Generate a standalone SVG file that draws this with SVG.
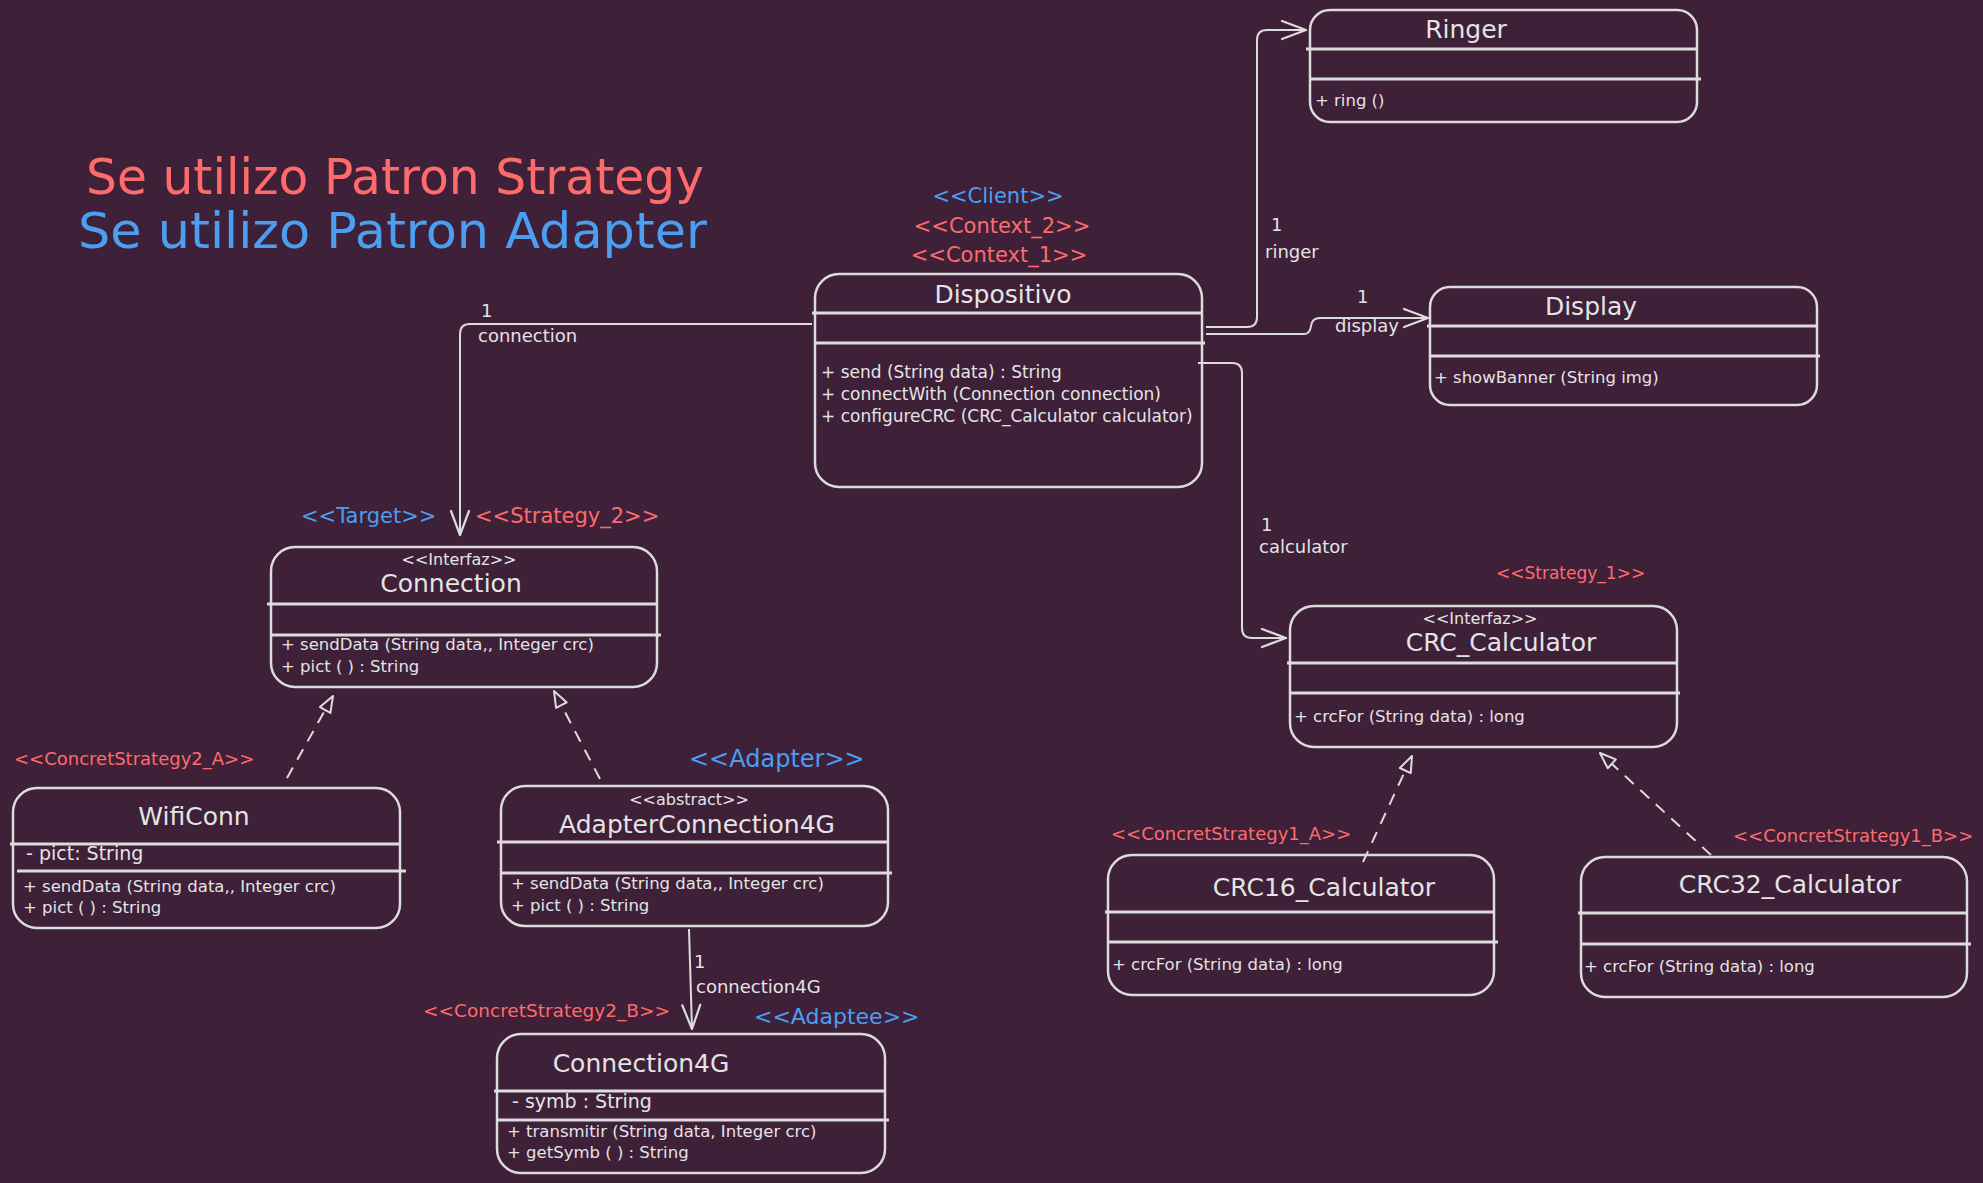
<svg xmlns="http://www.w3.org/2000/svg" width="1983" height="1183" viewBox="0 0 1983 1183">
<style>
.bg{fill:#3e2039}
.box{fill:none;stroke:#dcdcdc;stroke-width:2.5}
.div{stroke:#dcdcdc;stroke-width:3}
.t{font-family:"DejaVu Sans",sans-serif;fill:#e4e4e4}
.title{font-size:25px;text-anchor:middle}
.ster{font-size:16px;text-anchor:middle}
.m{font-size:16.5px}
.md{font-size:17px}
.attr{font-size:19px}
.lbl{font-size:18px}
.red{font-family:"DejaVu Sans",sans-serif;fill:#ff6b6b}
.blue{font-family:"DejaVu Sans",sans-serif;fill:#4c9ef0}
.con{fill:none;stroke:#dcdcdc;stroke-width:2}
.assoc{marker-end:url(#open)}
.real{stroke-dasharray:12 9;marker-end:url(#tri)}
</style>
<defs>
<marker id="open" markerUnits="userSpaceOnUse" markerWidth="30" markerHeight="24" viewBox="-26 -12 30 24" refX="0" refY="0" orient="auto">
<path d="M -24 -9 L 0 0 L -24 9" fill="none" stroke="#dcdcdc" stroke-width="2.2" stroke-linecap="round" stroke-linejoin="round"/>
</marker>
<marker id="tri" markerUnits="userSpaceOnUse" markerWidth="24" markerHeight="20" viewBox="-20 -10 24 20" refX="0" refY="0" orient="auto">
<path d="M 0 0 L -16 -6 L -16 6 Z" fill="#3e2039" stroke="#dcdcdc" stroke-width="2" stroke-linejoin="round"/>
</marker>
</defs>
<rect class="bg" x="0" y="0" width="1983" height="1183"/>

<g id="headings">
<text class="red" x="86" y="194" font-size="49" textLength="618" lengthAdjust="spacingAndGlyphs">Se utilizo Patron Strategy</text>
<text class="blue" x="78" y="248" font-size="49" textLength="629" lengthAdjust="spacingAndGlyphs">Se utilizo Patron Adapter</text>
</g>

<g id="connectors">
<path class="con assoc" d="M 812 324 L 470 324 Q 460 324 460 334 L 460 535"/>
<path class="con assoc" d="M 1206 327 L 1247 327 Q 1257 327 1257 317 L 1257 40 Q 1257 30 1267 30 L 1306 30"/>
<path class="con assoc" d="M 1206 334 L 1304 334 Q 1310 334 1311 326 Q 1312 318 1320 318 L 1428 318"/>
<path class="con assoc" d="M 1198 363 L 1232 363 Q 1242 363 1242 373 L 1242 628 Q 1242 638 1252 638 L 1286 638"/>
<path class="con assoc" d="M 689 929 L 692 1029"/>
<path class="con real" d="M 287 778 L 333 696"/>
<path class="con real" d="M 600 779 L 554 691"/>
<path class="con real" d="M 1363 862 L 1412 756"/>
<path class="con real" d="M 1711 855 L 1600 753"/>
<text class="t lbl" x="481" y="317">1</text>
<text class="t lbl" x="478" y="342">connection</text>
<text class="t lbl" x="1271" y="231">1</text>
<text class="t lbl" x="1265" y="258">ringer</text>
<text class="t lbl" x="1357" y="303">1</text>
<text class="t lbl" x="1335" y="332">display</text>
<text class="t lbl" x="1261" y="531">1</text>
<text class="t lbl" x="1259" y="553">calculator</text>
<text class="t lbl" x="694" y="968">1</text>
<text class="t lbl" x="696" y="993">connection4G</text>
</g>

<g id="Dispositivo">
<text class="blue" x="998" y="203" font-size="21" text-anchor="middle">&lt;&lt;Client&gt;&gt;</text>
<text class="red" x="1002" y="233" font-size="21" text-anchor="middle">&lt;&lt;Context_2&gt;&gt;</text>
<text class="red" x="999" y="262" font-size="21" text-anchor="middle">&lt;&lt;Context_1&gt;&gt;</text>
<rect class="box" x="815" y="274" width="387" height="213" rx="24"/>
<line class="div" x1="812" y1="313" x2="1202" y2="313"/>
<line class="div" x1="815" y1="343" x2="1205" y2="343"/>
<text class="t title" x="1003" y="303">Dispositivo</text>
<text class="t md" x="821" y="378">+ send (String data) : String</text>
<text class="t md" x="821" y="400">+ connectWith (Connection connection)</text>
<text class="t md" x="821" y="422">+ configureCRC (CRC_Calculator calculator)</text>
</g>

<g id="Ringer">
<rect class="box" x="1310" y="10" width="387" height="112" rx="20"/>
<line class="div" x1="1306" y1="49" x2="1697" y2="49"/>
<line class="div" x1="1310" y1="79" x2="1701" y2="79"/>
<text class="t title" x="1466" y="38">Ringer</text>
<text class="t m" x="1315" y="106">+ ring ()</text>
</g>

<g id="Display">
<rect class="box" x="1430" y="287" width="387" height="118" rx="20"/>
<line class="div" x1="1427" y1="326" x2="1817" y2="326"/>
<line class="div" x1="1430" y1="356" x2="1820" y2="356"/>
<text class="t title" x="1591" y="315">Display</text>
<text class="t m" x="1434" y="383">+ showBanner (String img)</text>
</g>

<g id="CRC_Calculator">
<text class="red" x="1496" y="579" font-size="17">&lt;&lt;Strategy_1&gt;&gt;</text>
<rect class="box" x="1290" y="606" width="387" height="141" rx="24"/>
<line class="div" x1="1287" y1="663" x2="1677" y2="663"/>
<line class="div" x1="1290" y1="693" x2="1680" y2="693"/>
<text class="t ster" x="1480" y="624">&lt;&lt;Interfaz&gt;&gt;</text>
<text class="t title" x="1501" y="651">CRC_Calculator</text>
<text class="t m" x="1294" y="722">+ crcFor (String data) : long</text>
</g>

<g id="CRC16_Calculator">
<text class="red" x="1111" y="840" font-size="18">&lt;&lt;ConcretStrategy1_A&gt;&gt;</text>
<rect class="box" x="1108" y="855" width="386" height="140" rx="24"/>
<line class="div" x1="1105" y1="912" x2="1494" y2="912"/>
<line class="div" x1="1108" y1="942" x2="1498" y2="942"/>
<text class="t title" x="1324" y="896">CRC16_Calculator</text>
<text class="t m" x="1112" y="970">+ crcFor (String data) : long</text>
</g>

<g id="CRC32_Calculator">
<text class="red" x="1733" y="842" font-size="18">&lt;&lt;ConcretStrategy1_B&gt;&gt;</text>
<rect class="box" x="1581" y="857" width="386" height="140" rx="24"/>
<line class="div" x1="1578" y1="913" x2="1967" y2="913"/>
<line class="div" x1="1581" y1="944" x2="1971" y2="944"/>
<text class="t title" x="1790" y="893">CRC32_Calculator</text>
<text class="t m" x="1584" y="972">+ crcFor (String data) : long</text>
</g>

<g id="Connection">
<text class="blue" x="301" y="523" font-size="21">&lt;&lt;Target&gt;&gt;</text>
<text class="red" x="475" y="523" font-size="21">&lt;&lt;Strategy_2&gt;&gt;</text>
<rect class="box" x="271" y="547" width="386" height="140" rx="24"/>
<line class="div" x1="267" y1="604" x2="657" y2="604"/>
<line class="div" x1="271" y1="635" x2="661" y2="635"/>
<text class="t ster" x="459" y="565">&lt;&lt;Interfaz&gt;&gt;</text>
<text class="t title" x="451" y="592">Connection</text>
<text class="t m" x="281" y="650">+ sendData (String data,, Integer crc)</text>
<text class="t m" x="281" y="672">+ pict ( ) : String</text>
</g>

<g id="WifiConn">
<text class="red" x="14" y="765" font-size="18">&lt;&lt;ConcretStrategy2_A&gt;&gt;</text>
<rect class="box" x="13" y="788" width="387" height="140" rx="24"/>
<line class="div" x1="10" y1="844" x2="400" y2="844"/>
<line class="div" x1="17" y1="871" x2="406" y2="871"/>
<text class="t title" x="194" y="825">WifiConn</text>
<text class="t attr" x="26" y="860">- pict: String</text>
<text class="t m" x="23" y="892">+ sendData (String data,, Integer crc)</text>
<text class="t m" x="23" y="913">+ pict ( ) : String</text>
</g>

<g id="AdapterConnection4G">
<text class="blue" x="689" y="767" font-size="24">&lt;&lt;Adapter&gt;&gt;</text>
<rect class="box" x="501" y="786" width="387" height="140" rx="24"/>
<line class="div" x1="497" y1="842" x2="888" y2="842"/>
<line class="div" x1="501" y1="873" x2="892" y2="873"/>
<text class="t ster" x="689" y="805">&lt;&lt;abstract&gt;&gt;</text>
<text class="t title" x="697" y="833">AdapterConnection4G</text>
<text class="t m" x="511" y="889">+ sendData (String data,, Integer crc)</text>
<text class="t m" x="511" y="911">+ pict ( ) : String</text>
</g>

<g id="Connection4G">
<text class="red" x="423" y="1017" font-size="18.5">&lt;&lt;ConcretStrategy2_B&gt;&gt;</text>
<text class="blue" x="754" y="1024" font-size="22">&lt;&lt;Adaptee&gt;&gt;</text>
<rect class="box" x="497" y="1034" width="388" height="139" rx="24"/>
<line class="div" x1="494" y1="1091" x2="885" y2="1091"/>
<line class="div" x1="497" y1="1120" x2="889" y2="1120"/>
<text class="t title" x="641" y="1072">Connection4G</text>
<text class="t attr" x="512" y="1108">- symb : String</text>
<text class="t m" x="507" y="1137">+ transmitir (String data, Integer crc)</text>
<text class="t m" x="507" y="1158">+ getSymb ( ) : String</text>
</g>
</svg>
